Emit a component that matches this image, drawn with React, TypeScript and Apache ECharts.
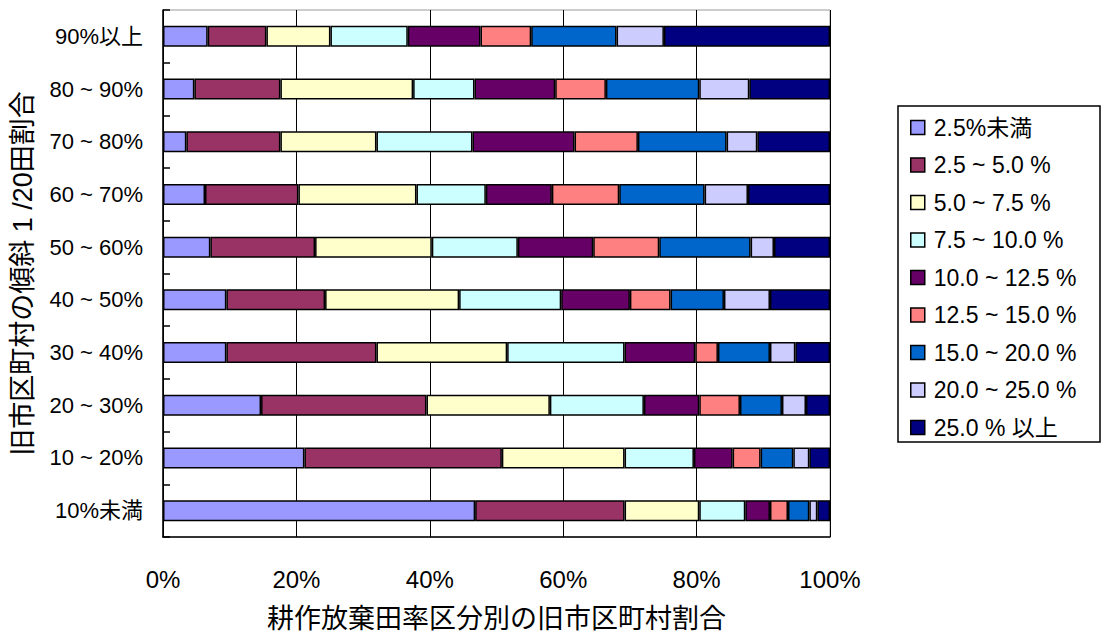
import React, { useEffect, useRef } from "react";
import * as echarts from "echarts";

const categories = ["10%未満", "10 ~ 20%", "20 ~ 30%", "30 ~ 40%", "40 ~ 50%", "50 ~ 60%", "60 ~ 70%", "70 ~ 80%", "80 ~ 90%", "90%以上"];
const seriesNames = ["2.5%未満", "2.5 ~ 5.0 %", "5.0 ~ 7.5 %", "7.5 ~ 10.0 %", "10.0 ~ 12.5 %", "12.5 ~ 15.0 %", "15.0 ~ 20.0 %", "20.0 ~ 25.0 %", "25.0 % 以上"];
const seriesColors = ["#9999FF", "#993366", "#FFFFCC", "#CCFFFF", "#660066", "#FF8080", "#0066CC", "#CCCCFF", "#000080"];

// values per series, categories bottom (10%未満) to top (90%以上)
const s1 = [46.8, 21.2, 14.7, 9.5, 9.5, 7.1, 6.3, 3.5, 4.7, 6.7];
const s2 = [22.4, 29.6, 24.8, 22.5, 14.8, 15.7, 14.0, 14.1, 12.9, 8.8];
const s3 = [11.2, 18.4, 18.5, 19.6, 20.1, 17.5, 17.7, 14.4, 19.9, 9.6];
const s4 = [6.9, 10.4, 14.1, 17.6, 15.3, 12.9, 10.4, 14.4, 9.2, 11.6];
const s5 = [3.7, 5.8, 8.3, 10.6, 10.3, 11.3, 9.9, 15.3, 12.1, 10.9];
const s6 = [2.7, 4.2, 6.1, 3.4, 6.1, 9.9, 10.1, 9.5, 7.6, 7.6];
const s7 = [3.2, 4.9, 6.3, 7.8, 8.0, 13.7, 12.8, 13.3, 14.0, 12.8];
const s8 = [1.2, 2.4, 3.6, 3.8, 6.9, 3.5, 6.5, 4.6, 7.5, 7.1];
const s9 = [1.9, 3.1, 3.6, 5.2, 9.0, 8.4, 12.3, 10.9, 12.1, 24.9];
const seriesValues = [s1, s2, s3, s4, s5, s6, s7, s8, s9];

const xTicks = [0, 20, 40, 60, 80, 100];

const FONT = "'Liberation Sans', 'Noto Sans CJK JP', sans-serif";

export default function App() {
  const ref = useRef<HTMLDivElement>(null);
  useEffect(() => {
    if (!ref.current) return;
    const chart = echarts.init(ref.current, null, { renderer: "svg" });
    chart.setOption({
      animation: false,
      backgroundColor: "#fff",
      textStyle: { fontFamily: FONT, color: "#000" },
      grid: {
        left: 163,
        top: 10,
        right: 271,
        bottom: 97,
        show: true,
        borderColor: "#999",
        borderWidth: 1,
      },
      legend: {
        orient: "vertical",
        left: 910,
        top: 116,
        itemWidth: 14,
        itemHeight: 14,
        itemGap: 14.5,
        icon: "rect",
        padding: 0,
        data: seriesNames,
        textStyle: { fontSize: 23, color: "#000", fontFamily: FONT, padding: [0, 0, 0, 4] },
        itemStyle: { borderColor: "#000", borderWidth: 1.5 },
      },
      graphic: [
        {
          type: "rect",
          shape: { x: 898, y: 106, width: 202, height: 336 },
          style: { fill: "none", stroke: "#000", lineWidth: 1.5 },
          z: 10,
        },
      ],
      xAxis: {
        type: "value",
        min: xTicks[0],
        max: xTicks[xTicks.length - 1],
        interval: 20,
        axisLine: { show: true, lineStyle: { color: "#000", width: 1.5 } },
        axisTick: { show: false },
        axisLabel: {
          formatter: "{value}%",
          fontSize: 24,
          color: "#000",
          margin: 30,
          fontFamily: "'Liberation Sans Narrow', 'Liberation Sans', sans-serif",
        },
        splitLine: { show: true, lineStyle: { color: "#000", width: 1 } },
        name: "耕作放棄田率区分別の旧市区町村割合",
        nameLocation: "middle",
        nameGap: 68,
        nameTextStyle: { fontSize: 27, color: "#000", fontFamily: FONT },
      },
      yAxis: {
        type: "category",
        data: categories,
        axisLine: { show: true, lineStyle: { color: "#000", width: 1.5 } },
        axisTick: { show: true, inside: true, length: 7, lineStyle: { color: "#000", width: 1.5 } },
        axisLabel: { fontSize: 22, color: "#000", margin: 20, fontFamily: FONT },
        splitLine: { show: false },
        name: "旧市区町村の傾斜 1 /20田割合",
        nameLocation: "middle",
        nameRotate: 90,
        nameGap: 127,
        nameTextStyle: { fontSize: 27, color: "#000", fontFamily: FONT },
      },
      series: seriesNames.map((name, i) => ({
        name,
        type: "bar",
        stack: "total",
        barWidth: 21,
        data: seriesValues[i],
        itemStyle: { color: seriesColors[i], borderColor: "#000", borderWidth: 1.5 },
      })),
    });
    return () => chart.dispose();
  }, []);
  return (
    <div
      ref={ref}
      style={{ position: "absolute", left: 0, top: 0, width: 1101, height: 637 }}
    />
  );
}
